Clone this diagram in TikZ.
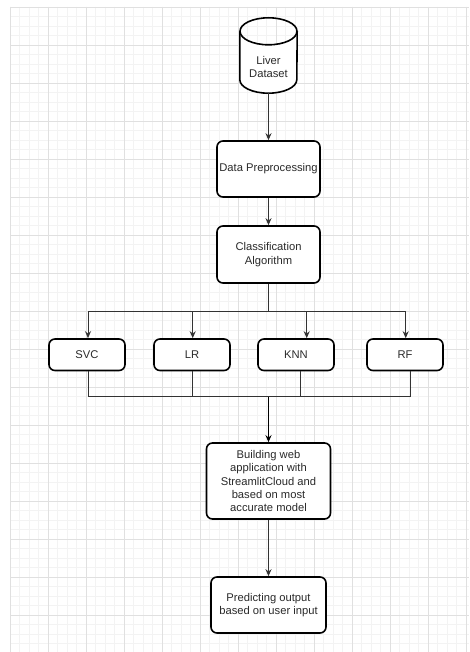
\documentclass[tikz,border=0pt]{standalone}
\usepackage{fontspec}
\setmainfont{Liberation Sans}
\usetikzlibrary{arrows.meta,calc}
\definecolor{gridminor}{HTML}{F3F3F3}
\definecolor{gridmajor}{HTML}{E0E0E0}
\definecolor{txt}{HTML}{2A2A2A}
\definecolor{conn}{HTML}{333333}
\tikzset{
  box/.style={draw=black, line width=1.6pt, rounded corners=6pt, fill=white, align=center,
    text=txt, inner sep=0pt, font=\fontsize{11.2}{13.3}\selectfont},
  conn/.style={draw=conn, line width=1pt},
  arr/.style={conn, -{Stealth[length=7pt,width=6pt]}},
  minorline/.style={draw=gridminor, line width=0.6pt},
  majorline/.style={draw=gridmajor, line width=0.7pt}
}
\begin{document}
\begin{tikzpicture}[x=1pt,y=-1pt]
\useasboundingbox (0,0) rectangle (469,652);
\fill[white] (0,0) rectangle (469,652);
% grid
\foreach \i in {0,...,48} {\draw[minorline] ({10+9.5*\i},7) -- ({10+9.5*\i},652);}
\foreach \j in {0,...,67} {\draw[minorline] (10,{7+9.5*\j}) -- (469,{7+9.5*\j});}
\foreach \i in {0,...,12} {\draw[majorline] ({10+38*\i},7) -- ({10+38*\i},652);}
\foreach \j in {0,...,16} {\draw[majorline] (10,{7+38*\j}) -- (469,{7+38*\j});}

% dataset cylinder
\node[minimum width=57pt, minimum height=75pt, inner sep=0pt] (ds) at (268.5,55.5) {};
\fill[white] ($(ds.north west)+(0,13.5)$) -- ($(ds.south west)+(0,-13.5)$)
   arc[start angle=180, end angle=0, x radius=28.5, y radius=13.5]
   -- ($(ds.north east)+(0,13.5)$)
   arc[start angle=0, end angle=180, x radius=28.5, y radius=13.5] -- cycle;
\draw[line width=1.6pt] ($(ds.north west)+(0,13.5)$) -- ($(ds.south west)+(0,-13.5)$)
   arc[start angle=180, end angle=0, x radius=28.5, y radius=13.5]
   -- ($(ds.north east)+(0,13.5)$);
\draw[line width=1.6pt] ($(ds.north)+(0,13.5)$) ellipse[x radius=28.5, y radius=13.5];
\node[align=center, text=txt, font=\fontsize{11.2}{13.3}\selectfont] (dstext) at (268.5,67) {Liver\\Dataset};

% boxes
\node[box, minimum width=103pt, minimum height=56pt] (prep) at (268.5,169) {Data Preprocessing};
\node[box, minimum width=103pt, minimum height=57pt] (cls) at (268.5,254.5) {Classification\\Algorithm};
\node[box, minimum width=76pt, minimum height=31.5pt] (svc) at (87,354.75) {SVC};
\node[box, minimum width=76pt, minimum height=31.5pt] (lr) at (192,354.75) {LR};
\node[box, minimum width=76pt, minimum height=31.5pt] (knn) at (296,354.75) {KNN};
\node[box, minimum width=76pt, minimum height=31.5pt] (rf) at (405,354.75) {RF};
\node[box, minimum width=124pt, minimum height=76pt] (build) at (268.5,481) {Building web\\application with\\StreamlitCloud and\\based on most\\accurate model};
\node[box, minimum width=115pt, minimum height=56pt] (pred) at (268.5,605) {Predicting output\\based on user input};

% connectors
\coordinate (split) at (268.5,311);
\coordinate (merge) at (268.5,396.7);
\draw[arr] (ds.south) -- (prep.north);
\draw[arr] (prep.south) -- (cls.north);
\draw[conn] (cls.south) -- (split);
\draw[arr] (split) -| ($(svc.north)+(1,0)$);
\draw[arr] (split) -| ($(lr.north)+(0.7,0)$);
\draw[arr] (split) -| ($(knn.north)+(10.7,0)$);
\draw[arr] (split) -| ($(rf.north)+(0.7,0)$);
\draw[conn] ($(svc.south)+(1,0)$) |- (merge);
\draw[conn] ($(lr.south)+(0.7,0)$) |- (merge);
\draw[conn] ($(knn.south)+(4,0)$) |- (merge);
\draw[conn] ($(rf.south)+(5,0)$) |- (merge);
\draw[draw=black, line width=1.5pt, -{Stealth[length=7pt,width=6pt]}] (merge) -- (build.north);
\draw[arr] (build.south) -- (pred.north);
\end{tikzpicture}
\end{document}
